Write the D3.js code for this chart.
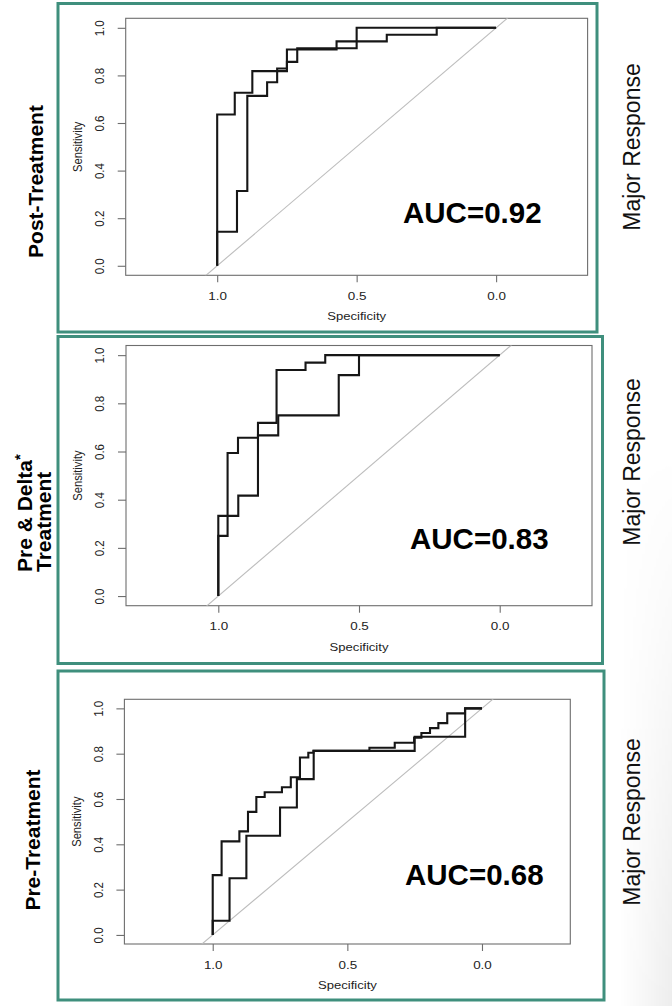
<!DOCTYPE html>
<html>
<head>
<meta charset="utf-8">
<script src="https://cdn.jsdelivr.net/npm/d3@7"></script>
<style>
  body { margin: 0; background: #ffffff; }
  svg { display: block; }
  text { font-family: "Liberation Sans", Arial, Helvetica, sans-serif; }
</style>
</head>
<body>
<script>

// ---- data ----

// row titles and AUC values
var rowTitles = [["Post-Treatment"], ["Pre & Delta", "Treatment"], ["Pre-Treatment"]];
var aucLabels = ["AUC=0.92", "AUC=0.83", "AUC=0.68"];
var sideLabel = "Major Response";

// tick labels
var xTicks = [1.0, 0.5, 0.0];
var yTicks = [0.0, 0.2, 0.4, 0.6, 0.8, 1.0];

// post-treatment, two roc curves (specificity where the step rises, sensitivity reached)
var postSpecA = [1, 1, 0.937, 0.874, 0.75, 0.572, 0.392, 0.213, 0];
var postSensA = [0, 0.636, 0.727, 0.818, 0.909, 0.943, 0.971, 1, 1];
var postSpecB = [1, 1, 0.929, 0.892, 0.821, 0.785, 0.75, 0.713, 0.5, 0];
var postSensB = [0, 0.143, 0.314, 0.714, 0.771, 0.829, 0.857, 0.914, 1, 1];

// pre & delta treatment
var deltaSpecA = [1, 1, 0.967, 0.93, 0.859, 0.793, 0.69, 0.62, 0];
var deltaSensA = [0, 0.25, 0.594, 0.657, 0.719, 0.938, 0.969, 1, 1];
var deltaSpecB = [1, 1, 0.929, 0.859, 0.787, 0.572, 0.5, 0];
var deltaSensB = [0, 0.333, 0.417, 0.667, 0.75, 0.917, 1, 1];

// pre-treatment
var preSpecA = [1, 1, 0.967, 0.901, 0.869, 0.838, 0.807, 0.743, 0.71, 0.676, 0.645, 0.626,
                0.418, 0.324, 0.252, 0.225, 0.193, 0.162, 0.129, 0.063, 0];
var preSensA = [0, 0.264, 0.413, 0.457, 0.543, 0.609, 0.63, 0.652, 0.696, 0.783, 0.804, 0.813,
                0.826, 0.848, 0.87, 0.891, 0.913, 0.935, 0.978, 1, 1];
var preSpecB = [1, 1, 0.9375, 0.875, 0.75, 0.6875, 0.625, 0.25, 0.0625, 0];
var preSensB = [0, 0.0625, 0.25, 0.4375, 0.5625, 0.6875, 0.8125, 0.875, 1, 1];

window.onload = function() {

  var w = 672,
      h = 1006;

  var svg = d3.select("body")
    .append("svg")
    .attr("width", w)
    .attr("height", h);

  svg.append("rect")
    .attr("width", w)
    .attr("height", h)
    .attr("fill", "#ffffff");

  make_shade(svg, w, h);

  // layout of the three slides (frame, plot box, labels)
  var panels = [
    { frame: [58, 3.5, 597, 332], box: [125.7, 18.3, 587.6, 275.3],
      auc: [403, 222.7], title: [35, 181.5], side: [632, 147],
      specA: postSpecA, sensA: postSensA, specB: postSpecB, sensB: postSensB },
    { frame: [58, 336.5, 602.5, 663.5], box: [126, 345.5, 592, 605.7],
      auc: [410, 549.3], title: [24, 572], side: [632, 462],
      specA: deltaSpecA, sensA: deltaSensA, specB: deltaSpecB, sensB: deltaSensB },
    { frame: [58, 671, 604, 1000], box: [124.4, 699.3, 570.3, 944],
      auc: [405, 885.3], title: [32, 840], side: [632, 822],
      specA: preSpecA, sensA: preSensA, specB: preSpecB, sensB: preSensB }
  ];

  panels.forEach(function(p, i) {

    // scales: R extends the specificity range so the plot keeps its aspect
    var x_scale = d3.scaleLinear()
      .domain([1.328, -0.328])
      .range([p.box[0], p.box[2]]);

    var y_scale = d3.scaleLinear()
      .domain([-0.04, 1.04])
      .range([p.box[3], p.box[1]]);

    make_frame(svg, p);
    make_axis(svg, p, x_scale, y_scale, i);
    make_curves(svg, p, x_scale, y_scale);
    make_titles(svg, p, i);
  });

  // faint grey shading of the slide at the lower right edge
  function make_shade(svg, w, h) {
    var defs = svg.append("defs");

    var hg = defs.append("linearGradient")
      .attr("id", "shadeH")
      .attr("x1", 0).attr("x2", 1).attr("y1", 0).attr("y2", 0);
    hg.append("stop").attr("offset", 0).attr("stop-color", "#000").attr("stop-opacity", 0);
    hg.append("stop").attr("offset", 1).attr("stop-color", "#000").attr("stop-opacity", 0.07);

    var vg = defs.append("linearGradient")
      .attr("id", "shadeV")
      .attr("x1", 0).attr("x2", 0).attr("y1", 0).attr("y2", 1);
    vg.append("stop").attr("offset", 0).attr("stop-color", "#fff").attr("stop-opacity", 0);
    vg.append("stop").attr("offset", 1).attr("stop-color", "#fff").attr("stop-opacity", 1);

    defs.append("mask")
      .attr("id", "shadeMask")
      .append("rect")
      .attr("x", 620).attr("y", 450)
      .attr("width", w - 620).attr("height", h - 450)
      .attr("fill", "url(#shadeV)");

    svg.append("rect")
      .attr("x", 620).attr("y", 450)
      .attr("width", w - 620).attr("height", h - 450)
      .attr("fill", "url(#shadeH)")
      .attr("mask", "url(#shadeMask)");
  }

  // teal slide frame
  function make_frame(svg, p) {
    svg.append("rect")
      .attr("x", p.frame[0])
      .attr("y", p.frame[1])
      .attr("width", p.frame[2] - p.frame[0])
      .attr("height", p.frame[3] - p.frame[1])
      .attr("fill", "none")
      .attr("stroke", "#3f8f7d")
      .attr("stroke-width", 3);
  }

  // box, ticks and axis titles like base R graphics (image was stretched sideways)
  function make_axis(svg, p, x_scale, y_scale, i) {

    var stretch = 1.17;

    svg.append("rect")
      .attr("x", p.box[0])
      .attr("y", p.box[1])
      .attr("width", p.box[2] - p.box[0])
      .attr("height", p.box[3] - p.box[1])
      .attr("fill", "none")
      .attr("stroke", "#6e6e6e")
      .attr("stroke-width", 1.1);

    var xAxis = d3.axisBottom(x_scale)
      .tickValues(xTicks)
      .tickSize(7)
      .tickSizeOuter(0)
      .tickFormat(d3.format(".1f"));

    var yAxis = d3.axisLeft(y_scale)
      .tickValues(yTicks)
      .tickSize(8)
      .tickSizeOuter(0)
      .tickFormat(d3.format(".1f"));

    var gX = svg.append("g")
      .attr("transform", "translate(0," + p.box[3] + ")")
      .call(xAxis);

    var gY = svg.append("g")
      .attr("transform", "translate(" + p.box[0] + ",0)")
      .call(yAxis);

    // style the axes
    [gX, gY].forEach(function(g) {
      g.select(".domain").remove();
      g.selectAll(".tick line").attr("stroke", "#6e6e6e").attr("stroke-width", 1.1);
      g.selectAll(".tick text")
        .attr("fill", "#222")
        .attr("font-size", 11.5)
        .attr("font-family", "Liberation Sans, Arial, sans-serif");
    });

    gX.selectAll(".tick text")
      .attr("y", null)
      .attr("dy", null)
      .attr("dominant-baseline", "central")
      .attr("transform", "translate(0,21) scale(" + stretch + ",1)");

    gY.selectAll(".tick text")
      .attr("x", null)
      .attr("dy", null)
      .attr("text-anchor", "middle")
      .attr("dominant-baseline", "central")
      .attr("transform", "translate(-26,0) scale(" + stretch + ",1) rotate(-90)");

    var cx = (p.box[0] + p.box[2]) / 2,
        cy = (p.box[1] + p.box[3]) / 2;

    // x-as title
    svg.append("text")
      .attr("transform", "translate(" + cx + "," + (p.box[3] + 41.5) + ") scale(" + stretch + ",1)")
      .attr("text-anchor", "middle")
      .attr("dominant-baseline", "central")
      .attr("font-size", 11.2)
      .attr("fill", "#222")
      .text("Specificity");

    // y-as title
    svg.append("text")
      .attr("transform", "translate(" + (p.box[0] - 48) + "," + cy + ") scale(" + stretch + ",1) rotate(-90)")
      .attr("text-anchor", "middle")
      .attr("dominant-baseline", "central")
      .attr("font-size", 11.2)
      .attr("fill", "#222")
      .text("Sensitivity");

    // chance diagonal, clipped to the box
    var clipId = "clip" + i;
    svg.append("clipPath")
      .attr("id", clipId)
      .append("rect")
      .attr("x", p.box[0])
      .attr("y", p.box[1])
      .attr("width", p.box[2] - p.box[0])
      .attr("height", p.box[3] - p.box[1]);

    svg.append("line")
      .attr("clip-path", "url(#" + clipId + ")")
      .attr("x1", x_scale(1.2))
      .attr("y1", y_scale(-0.2))
      .attr("x2", x_scale(-0.2))
      .attr("y2", y_scale(1.2))
      .attr("stroke", "#bdbdbd")
      .attr("stroke-width", 1.1);
  }

  // two stepped roc curves
  function make_curves(svg, p, x_scale, y_scale) {

    var line = d3.line()
      .x(function(d) { return x_scale(d[0]); })
      .y(function(d) { return y_scale(d[1]); })
      .curve(d3.curveStepAfter);

    var curves = [d3.zip(p.specB, p.sensB), d3.zip(p.specA, p.sensA)];

    svg.selectAll(null)
      .data(curves)
      .enter()
      .append("path")
      .attr("d", line)
      .attr("fill", "none")
      .attr("stroke", "#161616")
      .attr("stroke-width", 2.1)
      .attr("stroke-linejoin", "miter");
  }

  // slide texts: row title, auc and side label
  function make_titles(svg, p, i) {

    svg.append("text")
      .attr("x", p.auc[0])
      .attr("y", p.auc[1])
      .attr("font-size", 29.5)
      .attr("font-weight", "bold")
      .attr("fill", "#000")
      .text(aucLabels[i]);

    svg.append("text")
      .attr("transform", "translate(" + p.side[0] + "," + p.side[1] + ") rotate(-90)")
      .attr("text-anchor", "middle")
      .attr("dominant-baseline", "central")
      .attr("font-size", 23)
      .attr("fill", "#111")
      .text(sideLabel);

    var lines = rowTitles[i];

    if (lines.length == 1) {
      svg.append("text")
        .attr("transform", "translate(" + p.title[0] + "," + p.title[1] + ") rotate(-90)")
        .attr("text-anchor", "middle")
        .attr("dominant-baseline", "central")
        .attr("font-size", 21)
        .attr("font-weight", "bold")
        .attr("fill", "#000")
        .text(lines[0]);
    }
    else {
      // two lines, left aligned at the bottom, with an asterisk on the first
      var t1 = svg.append("text")
        .attr("transform", "translate(" + p.title[0] + "," + p.title[1] + ") rotate(-90)")
        .attr("dominant-baseline", "central")
        .attr("font-size", 21)
        .attr("font-weight", "bold")
        .attr("fill", "#000")
        .text(lines[0]);
      t1.append("tspan")
        .attr("font-size", 15)
        .attr("dy", -5)
        .text("*");

      svg.append("text")
        .attr("transform", "translate(" + (p.title[0] + 19.5) + "," + p.title[1] + ") rotate(-90)")
        .attr("dominant-baseline", "central")
        .attr("font-size", 21)
        .attr("font-weight", "bold")
        .attr("fill", "#000")
        .text(lines[1]);
    }
  }

};
</script>
</body>
</html>
